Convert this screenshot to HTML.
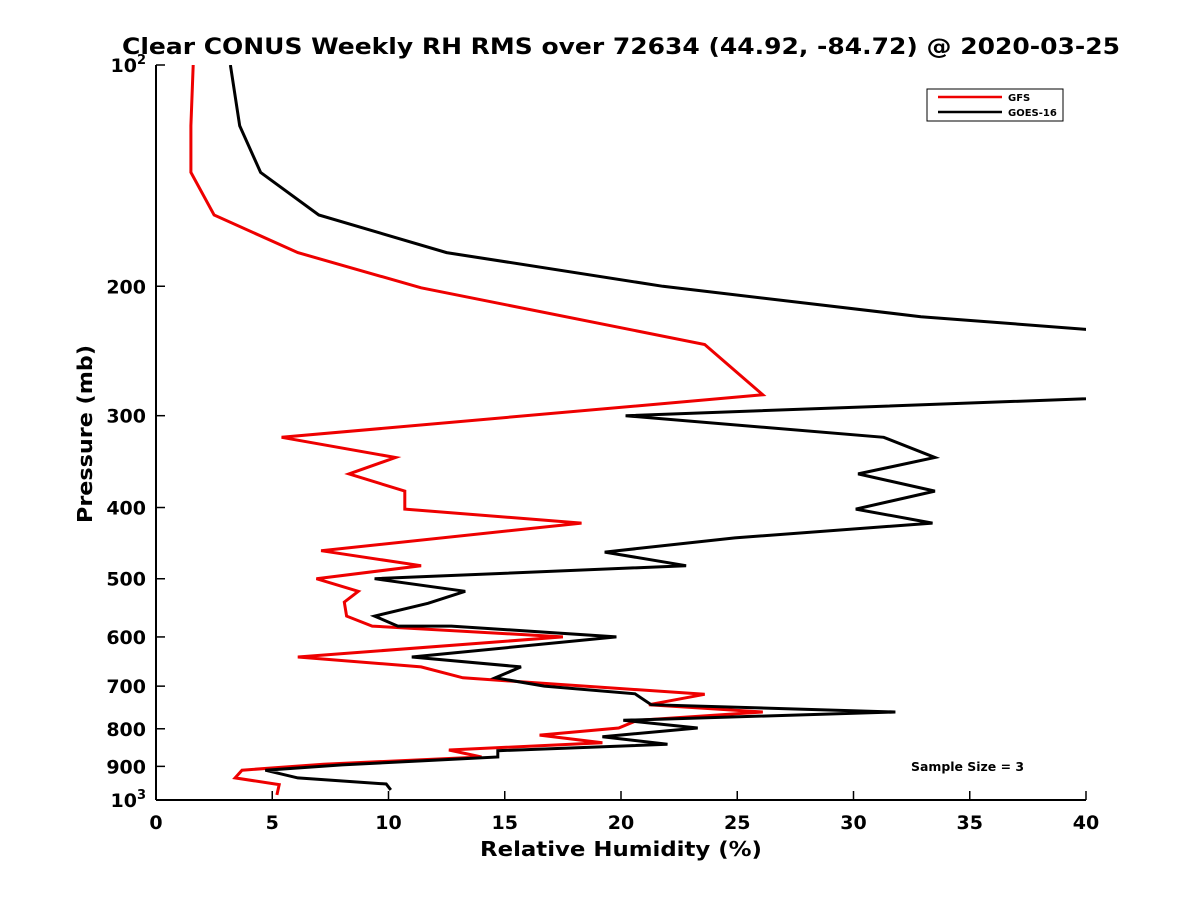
<!DOCTYPE html>
<html><head><meta charset="utf-8"><style>
body{margin:0;background:#fff;}
svg text{font-family:"DejaVu Sans","Liberation Sans",sans-serif;font-weight:bold;}
</style></head><body>
<svg width="1200" height="900" xmlns="http://www.w3.org/2000/svg">
<defs><clipPath id="pc"><rect x="156" y="65" width="930" height="735"/></clipPath></defs>
<text x="621" y="54" font-size="22" text-anchor="middle" textLength="998" lengthAdjust="spacingAndGlyphs">Clear CONUS Weekly RH RMS over 72634 (44.92, -84.72) @ 2020-03-25</text>
<g id="axes"></g>
<g id="series" clip-path="url(#pc)"></g>
<text x="621" y="856" font-size="20" text-anchor="middle" textLength="282" lengthAdjust="spacingAndGlyphs">Relative Humidity (%)</text>
<text transform="translate(92,434) rotate(-90)" font-size="20" text-anchor="middle" textLength="178" lengthAdjust="spacingAndGlyphs">Pressure (mb)</text>
<g>
<rect x="927" y="89" width="136" height="32" fill="#fff" stroke="#000" stroke-width="1"/>
<line x1="938" y1="97" x2="1002" y2="97" stroke="#e00" stroke-width="2.5"/>
<text x="1008" y="101" font-size="10">GFS</text>
<line x1="938" y1="112" x2="1002" y2="112" stroke="#000" stroke-width="2.5"/>
<text x="1008" y="116" font-size="10">GOES-16</text>
</g>
<text x="911" y="771" font-size="12" textLength="113" lengthAdjust="spacingAndGlyphs">Sample Size = 3</text>
</svg>
<script>
const xTicks=[0,5,10,15,20,25,30,35,40];
const yTicks=[100,200,300,400,500,600,700,800,900,1000];
const gfsRH=[1.6,1.5,1.5,2.5,6.1,11.4,23.6,26.1,5.4,10.3,8.3,10.7,10.7,18.3,7.1,11.4,6.9,8.7,8.1,8.2,9.3,17.5,6.1,11.4,13.2,23.6,21.2,26.1,20.7,19.9,16.5,19.2,12.6,14.0,7.2,3.7,3.4,5.3,5.2];
const gfsP=[100,121,140,160,180,201,240,281,321,342,360,380,402,420,458,480,500,520,538,562,580,600,639,659,682,718,742,759,779,798,816,836,855,874,894,911,933,953,984];
const goesRH=[3.2,3.6,4.5,7.0,12.5,21.8,32.9,50,50,20.2,31.3,33.5,30.2,33.5,30.1,33.4,24.9,19.3,22.8,9.4,13.3,11.7,9.4,10.4,12.7,19.8,11.0,15.7,14.6,16.7,20.6,21.3,31.8,20.1,23.3,19.2,22.0,14.7,14.7,8.0,4.7,6.1,9.9,10.1];
const goesP=[100,121,140,160,180,200,220,242,277,300,321,342,360,380,402,420,440,460,480,500,520,540,562,580,580,600,639,659,682,700,717,742,759,779,798,820,840,857,874,896,911,933,951,969];
const X=v=>156+v*930/40;
const Y=p=>65+Math.log10(p/100)*735;
const NS="http://www.w3.org/2000/svg";
const ax=document.getElementById('axes');
function mk(t,a,parent){const e=document.createElementNS(NS,t);for(const k in a)e.setAttribute(k,a[k]);parent.appendChild(e);return e;}
const xl=mk('line',{x1:156,y1:800,x2:1086,y2:800,stroke:'#000','stroke-width':2},ax);


const yl=mk('line',{x1:156,y1:65,x2:156,y2:800,stroke:'#000','stroke-width':2},ax);


xTicks.forEach(v=>{
 mk('line',{x1:X(v),y1:800,x2:X(v),y2:791,stroke:'#000','stroke-width':1.5},ax);
 const t=mk('text',{x:X(v),y:829,'font-size':19,'text-anchor':'middle'},ax);
 t.textContent=v;
 
 
});
yTicks.forEach(p=>{
 mk('line',{x1:156,y1:Y(p),x2:165,y2:Y(p),stroke:'#000','stroke-width':1.5},ax);
 const t=mk('text',{x:146,y:Y(p)+7,'font-size':19,'text-anchor':'end'},ax);
 if(p===100||p===1000){t.textContent='10';const s=mk('tspan',{dy:-8,'font-size':13},t);s.textContent=p===100?'2':'3';}
 else t.textContent=p;
 
 
});
const sg=document.getElementById('series');
function line(rh,pr,col,name){
 const pts=rh.map((v,i)=>X(v).toFixed(1)+','+Y(pr[i]).toFixed(1)).join(' ');
 const pl=mk('polyline',{points:pts,fill:'none',stroke:col,'stroke-width':3,'stroke-linejoin':'miter'},sg);
 
 
}
line(gfsRH,gfsP,'#e00','gfs-line');
line(goesRH,goesP,'#000','goes16-line');
</script>
</body></html>
